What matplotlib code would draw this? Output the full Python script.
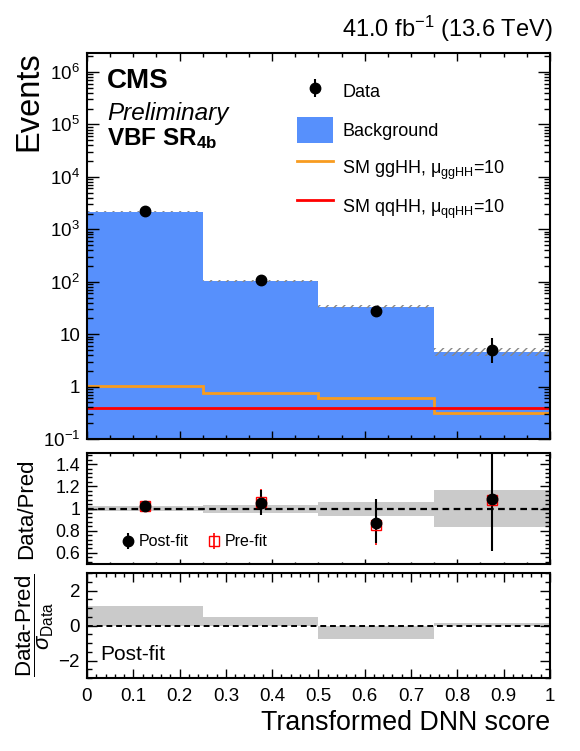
import matplotlib
matplotlib.use('Agg')
import matplotlib.pyplot as plt
import numpy as np
from matplotlib.ticker import MultipleLocator, LogLocator, FuncFormatter, NullFormatter

plt.rcParams['font.family'] = ['Liberation Sans', 'DejaVu Sans']
plt.rcParams['mathtext.fontset'] = 'custom'
plt.rcParams['mathtext.rm'] = 'Liberation Sans'
plt.rcParams['mathtext.it'] = 'Liberation Sans:italic'
plt.rcParams['mathtext.bf'] = 'Liberation Sans:bold'
plt.rcParams['mathtext.sf'] = 'Liberation Sans'
plt.rcParams['hatch.linewidth'] = 1.0

# binning of the transformed DNN score
bin_edges = [0.0, 0.25, 0.5, 0.75, 1.0]

# top panel
background = [2150, 103, 33.5, 4.6]
bkg_unc = [0.02, 0.035, 0.065, 0.165]   # relative post-fit uncertainty
data = [2200, 108, 28, 5]
data_err_lo = [47, 10.2, 5.2, 2.16]
data_err_hi = [48, 11.0, 6.4, 3.38]
gghh = [1.02, 0.77, 0.60, 0.31]
qqhh = [0.39, 0.39, 0.39, 0.39]

# ratio panel
band_lo = [0.02, 0.04, 0.066, 0.17]
band_hi = [0.02, 0.03, 0.06, 0.165]
ratio_post = [1.02, 1.05, 0.865, 1.09]
ratio_post_lo = [0.02, 0.11, 0.18, 0.47]
ratio_post_hi = [0.02, 0.12, 0.225, 0.73]
ratio_pre = [1.025, 1.06, 0.85, 1.075]
ratio_pre_lo = [0.02, 0.11, 0.18, 0.45]
ratio_pre_hi = [0.02, 0.12, 0.225, 0.73]

# pull panel
pulls = [1.13, 0.47, -0.75, 0.15]

blue = '#5790fc'
orange = '#f89c20'
grey = '#cacaca'

edges = np.array(bin_edges)
centers = 0.5 * (edges[1:] + edges[:-1])
bkg = np.array(background)
unc = np.array(bkg_unc)

fig = plt.figure(figsize=(5.8, 7.51), dpi=100)
ax = fig.add_axes([0.15, 0.4154, 0.798, 0.514])
ax2 = fig.add_axes([0.15, 0.249, 0.798, 0.1478])
ax3 = fig.add_axes([0.15, 0.0972, 0.798, 0.1398])

# --- top panel ---
bkg_art = ax.stairs(bkg, edges, baseline=1e-3, fill=True, color=blue, lw=0, label='Background')
ax.stairs(bkg * (1 + unc), edges, baseline=bkg * (1 - unc), fill=True, hatch='////',
          facecolor='none', edgecolor='#888888', lw=0)
ggh_art = ax.stairs(gghh, edges, baseline=None, color=orange, lw=2.0)
qqh_art = ax.stairs(qqhh, edges, baseline=None, color='#ff0000', lw=2.0)
data_art = ax.errorbar(centers, data, yerr=[data_err_lo, data_err_hi], fmt='o', color='k',
                       ms=7.5, elinewidth=1.5, capsize=0)

ax.set_yscale('log')
ax.set_xlim(0, 1)
ax.set_ylim(0.1, 2.3e6)

def log_fmt(v, pos):
    e = int(round(np.log10(v)))
    if e == 0:
        return '1'
    if e == 1:
        return '10'
    return r'$10^{%d}$' % e

ax.yaxis.set_major_locator(LogLocator(base=10, numticks=20))
ax.yaxis.set_minor_locator(LogLocator(base=10, subs=np.arange(2, 10), numticks=20))
ax.yaxis.set_major_formatter(FuncFormatter(log_fmt))
ax.yaxis.set_minor_formatter(NullFormatter())
ax.xaxis.set_major_locator(MultipleLocator(0.2))
ax.xaxis.set_minor_locator(MultipleLocator(0.05))
ax.tick_params(axis='x', which='major', length=6, labelbottom=False)
ax.tick_params(axis='x', which='minor', length=3)
ax.tick_params(axis='y', which='major', length=8.5, labelsize=13.5, pad=5)
ax.tick_params(axis='y', which='minor', length=4.3)
ax.set_ylabel('Events', fontsize=23.5, loc='top')
ax.yaxis.set_label_coords(-0.093, 1.005)

ax.text(0.043, 0.909, 'CMS', transform=ax.transAxes, fontsize=20, fontweight='bold', va='baseline')
ax.text(0.043, 0.826, 'Preliminary', transform=ax.transAxes, fontsize=17.5, style='italic', va='baseline')
ax.text(0.043, 0.762, r'VBF SR$_{\mathbf{4b}}$', transform=ax.transAxes, fontsize=17.5,
        fontweight='bold', va='baseline')
ax.text(1.006, 1.041, r'41.0 fb$^{-1}$ (13.6 TeV)', transform=ax.transAxes, fontsize=17,
        ha='right', va='baseline')

ax.legend([data_art, bkg_art, ggh_art, qqh_art],
          ['Data', 'Background', r'SM ggHH, $\mathrm{\mu}_{\mathrm{ggHH}}$=10',
           r'SM qqHH, $\mathrm{\mu}_{\mathrm{qqHH}}$=10'],
          loc='upper left', bbox_to_anchor=(297 / 580, 1 - 78 / 751),
          bbox_transform=fig.transFigure, frameon=False, fontsize=13,
          handlelength=2.0, handleheight=1.92, labelspacing=0.64, handletextpad=0.5,
          borderpad=0, borderaxespad=0)

# --- ratio panel ---
ax2.stairs(1 + np.array(band_hi), edges, baseline=1 - np.array(band_lo), fill=True, color=grey, lw=0)
ax2.axhline(1, color='k', ls=(0, (3, 2)), lw=1.6)
pre_art = ax2.errorbar(centers, ratio_pre, yerr=[ratio_pre_lo, ratio_pre_hi], fmt='s', mfc='none',
                       mec='red', ecolor='red', ms=7.5, mew=1.0, elinewidth=1.2, capsize=0)
post_art = ax2.errorbar(centers, ratio_post, yerr=[ratio_post_lo, ratio_post_hi], fmt='o', color='k',
                        ms=7.5, elinewidth=1.5, capsize=0)
ax2.set_xlim(0, 1)
ax2.set_ylim(0.5, 1.5)
ax2.yaxis.set_major_locator(MultipleLocator(0.2))
ax2.yaxis.set_minor_locator(MultipleLocator(0.04))
ax2.yaxis.set_major_formatter(FuncFormatter(lambda v, p: '%g' % round(v, 2)))
ax2.xaxis.set_major_locator(MultipleLocator(0.2))
ax2.xaxis.set_minor_locator(MultipleLocator(0.05))
ax2.tick_params(axis='x', which='major', length=3.6, labelbottom=False)
ax2.tick_params(axis='x', which='minor', length=1.8)
ax2.tick_params(axis='y', which='major', length=7.2, labelsize=12.8, pad=5)
ax2.tick_params(axis='y', which='minor', length=3.6)
ax2.set_ylabel('Data/Pred', fontsize=16)
ax2.yaxis.set_label_coords(-0.108, 0.5)
ax2.legend([post_art, pre_art], ['Post-fit', 'Pre-fit'], loc='center left',
           bbox_to_anchor=(0.071, 0.2), ncol=2, frameon=False, fontsize=11.5,
           handlelength=1.0, handletextpad=0.2, columnspacing=1.06, borderpad=0, borderaxespad=0)

# --- pull panel ---
ax3.stairs(pulls, edges, baseline=0, fill=True, color=grey, lw=0)
ax3.axhline(0, color='k', ls=(0, (3, 2)), lw=1.4)
ax3.set_xlim(0, 1)
ax3.set_ylim(-3, 3)
ax3.yaxis.set_major_locator(MultipleLocator(2))
ax3.yaxis.set_minor_locator(MultipleLocator(0.5))
ax3.yaxis.set_major_formatter(FuncFormatter(lambda v, p: ('%g' % v).replace('-', '\u2212')))
ax3.xaxis.set_major_locator(MultipleLocator(0.1))
ax3.xaxis.set_minor_locator(MultipleLocator(0.02))
ax3.xaxis.set_major_formatter(FuncFormatter(lambda v, p: '%g' % round(v, 2)))
ax3.tick_params(axis='x', which='major', length=6.5, labelsize=13.5, pad=7)
ax3.tick_params(axis='x', which='minor', length=3.2)
ax3.tick_params(axis='y', which='major', length=7.2, labelsize=13.5, pad=5)
ax3.tick_params(axis='y', which='minor', length=3.6)
ax3.set_ylabel('$\\dfrac{\\mathrm{Data\u2010Pred}}{\\sigma_{\\mathrm{Data}}}$', fontsize=16)
ax3.yaxis.set_label_coords(-0.067, 0.5)
ax3.text(0.028, 0.17, 'Post-fit', transform=ax3.transAxes, fontsize=15, va='baseline')
ax3.set_xlabel('Transformed DNN score', fontsize=19.3, loc='right')

for a in (ax, ax2, ax3):
    a.tick_params(which='both', direction='in', top=True, right=True, width=1.0, color='k')
    for s in a.spines.values():
        s.set_linewidth(1.5)

fig.savefig('out.png', dpi=100)
